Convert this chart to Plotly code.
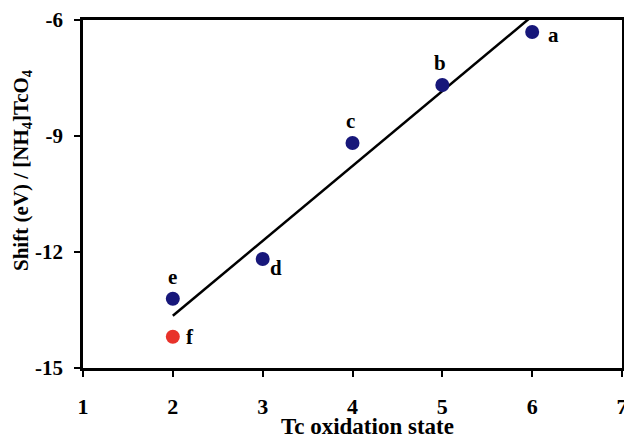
import plotly.graph_objects as go

ox_states = [6, 5, 4, 3, 2]
shifts = [-6.31, -7.68, -9.18, -12.18, -13.21]
point_labels = ["a", "b", "c", "d", "e"]
red_x = [2]
red_y = [-14.19]
red_label = ["f"]
fit_x = [2, 6]
fit_y = [-13.65, -5.9]
x_ticks = [1, 2, 3, 4, 5, 6, 7]
y_ticks = [-6, -9, -12, -15]
y_ticktext = ["-6", "-9", "-12", "-15"]

FONT = "Liberation Serif"
label_offsets = {"a": (21, -3), "b": (-2, 22), "c": (-2, 22), "d": (13, -9), "e": (0, 22), "f": (17, 0)}

fig = go.Figure()
fig.add_trace(go.Scatter(x=fit_x, y=fit_y, mode="lines",
                         line=dict(color="black", width=2.5), showlegend=False, hoverinfo="skip"))
fig.add_trace(go.Scatter(x=ox_states, y=shifts, mode="markers",
                         marker=dict(color="#17177a", size=14), showlegend=False, cliponaxis=False))
fig.add_trace(go.Scatter(x=red_x, y=red_y, mode="markers",
                         marker=dict(color="#e8322a", size=14), showlegend=False, cliponaxis=False))

for xv, yv, lab in list(zip(ox_states, shifts, point_labels)) + list(zip(red_x, red_y, red_label)):
    dx, dy = label_offsets[lab]
    fig.add_annotation(x=xv, y=yv, text="<b>%s</b>" % lab, showarrow=False,
                       xshift=dx, yshift=dy, font=dict(family=FONT, size=21, color="black"))

axis_common = dict(showline=True, linecolor="black", linewidth=2.5, mirror=True,
                   ticks="outside", ticklen=6, tickwidth=2, tickcolor="black",
                   showgrid=False, zeroline=False, automargin=False)

fig.update_xaxes(range=[1, 7], tickvals=x_ticks, ticktext=["<b>%d</b>" % v for v in x_ticks],
                 ticklabelstandoff=11, ticklabeloverflow="allow",
                 tickfont=dict(family=FONT, size=22, color="black"), **axis_common)
fig.update_yaxes(range=[-15, -6], tickvals=y_ticks, ticktext=["<b>%s</b>" % t for t in y_ticktext],
                 ticklabelstandoff=7, ticklabeloverflow="allow",
                 tickfont=dict(family=FONT, size=21, color="black"), **axis_common)

# axis titles
fig.add_annotation(xref="paper", yref="paper", x=0.527, y=0, yshift=-44, xanchor="center",
                   yanchor="top",
                   text="<b>Tc oxidation state</b>", showarrow=False,
                   font=dict(family=FONT, size=23, color="black"))
fig.add_annotation(xref="paper", yref="paper", x=0, xshift=-61, y=0.569, textangle=-90,
                   xanchor="center", yanchor="middle",
                   text="<b>Shift (eV) / [NH<sub>4</sub>]TcO<sub>4</sub></b>", showarrow=False,
                   font=dict(family=FONT, size=21, color="black"))

fig.update_layout(width=624, height=435, margin=dict(l=83, r=2, t=20, b=67),
                  plot_bgcolor="white", paper_bgcolor="white")
fig.write_html("out.html", config={"displayModeBar": False})

with open("out.html", "r", encoding="utf-8") as fh:
    html = fh.read()
html = html.replace("<head>", "<head><style>html,body{margin:0;padding:0;overflow:hidden}</style>", 1)
with open("out.html", "w", encoding="utf-8") as fh:
    fh.write(html)
